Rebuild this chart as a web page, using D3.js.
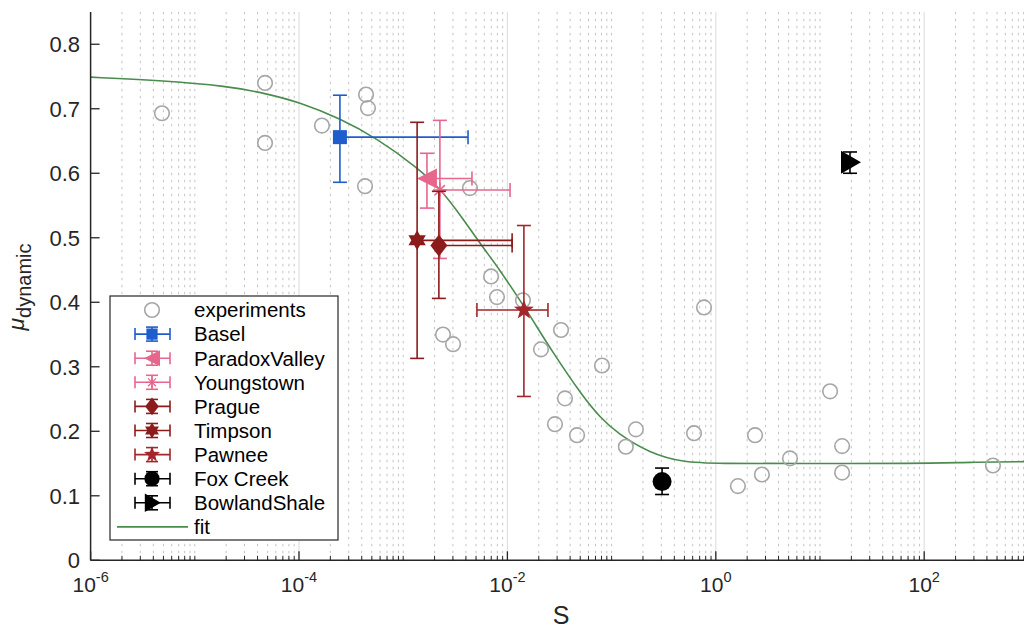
<!DOCTYPE html>
<html>
<head>
<meta charset="utf-8">
<script src="https://cdn.jsdelivr.net/npm/d3@7"></script>
<style>
  body { margin: 0; background: #fff; }
  svg { display: block; font-family: "Liberation Sans", Arial, Helvetica, sans-serif; }
</style>
</head>
<body>
<svg id="chart" width="1024" height="630"></svg>
<script>
// ---------------- data ----------------
const expS  = [4.84e-6, 4.72e-5, 4.72e-5, 1.66e-4, 4.40e-4, 4.59e-4, 4.30e-4, 4.37e-3, 6.97e-3, 7.94e-3,
               0.0141, 2.41e-3, 3.01e-3, 0.0210, 0.0327, 0.0357, 0.0286, 0.0466, 0.0809, 0.137,
               0.171, 0.771, 0.618, 1.63, 2.38, 2.77, 5.15, 12.5, 16.3, 16.3, 457];
const expMu = [0.693, 0.740, 0.647, 0.674, 0.722, 0.701, 0.580, 0.577, 0.440, 0.408,
               0.403, 0.350, 0.335, 0.327, 0.357, 0.251, 0.211, 0.194, 0.302, 0.176,
               0.203, 0.392, 0.197, 0.115, 0.194, 0.133, 0.158, 0.262, 0.177, 0.136, 0.147];

const siteNames = ["Basel", "ParadoxValley", "Youngstown", "Prague", "Timpson", "Pawnee", "Fox Creek", "BowlandShale"];
const siteS     = [2.47e-4, 1.69e-3, 2.25e-3, 2.20e-3, 1.36e-3, 0.0144, 0.305, 19.4];
const siteMu    = [0.656, 0.592, 0.574, 0.488, 0.496, 0.388, 0.122, 0.617];
const siteMuLo  = [0.586, 0.546, 0.468, 0.406, 0.313, 0.254, 0.102, 0.600];
const siteMuHi  = [0.721, 0.631, 0.682, 0.572, 0.679, 0.519, 0.143, 0.633];
const siteSLo   = [null, null, null, null, null, 5.10e-3, null, null];
const siteSHi   = [4.19e-3, 4.57e-3, 0.0106, 0.0111, 0.0111, 0.0245, null, null];
const siteColors  = ["#1f5ccc", "#e7668c", "#e7668c", "#8c1c1c", "#8c1c1c", "#a3262a", "#000000", "#000000"];
const siteMarkers = ["square", "triLeft", "asterisk", "diamond", "hexagram", "pentagram", "circle", "triRight"];

const fitS  = [1e-6, 4.50e-6, 2.11e-5, 4.72e-5, 1.02e-4, 2.47e-4, 5.60e-4, 1.36e-3, 2.25e-3, 3.66e-3,
               5.46e-3, 8.49e-3, 0.0132, 0.0176, 0.0256, 0.0532, 0.0774, 0.113, 0.233,
               0.484, 1.03, 6.44, 85.3, 275, 1000];
const fitMu = [0.749, 0.744, 0.735, 0.724, 0.710, 0.685, 0.654, 0.609, 0.577, 0.532,
               0.491, 0.450, 0.403, 0.372, 0.329, 0.253, 0.222, 0.197, 0.166,
               0.152, 0.150, 0.150, 0.150, 0.152, 0.153];

const yTicks = [0, 0.1, 0.2, 0.3, 0.4, 0.5, 0.6, 0.7, 0.8];
const xTickExps = [-6, -4, -2, 0, 2];
const legendLabels = ["experiments", ...siteNames, "fit"];

// ---------------- layout ----------------
const svg = d3.select("#chart");
const axisColor = "#262626";
const x = d3.scaleLog().domain([1e-6, 1e3]).range([90.6, 1028.4]);
const y = d3.scaleLinear().domain([0, 0.85]).range([560.3, 12]);
const x0 = x.range()[0], yBot = y(0), yTop = y.range()[1];

// ---------------- grid ----------------
const grid = svg.append("g");
const minorVals = [];
for (let e = -6; e < 3; e++) {
  for (let m = 1; m <= 9; m++) {
    const v = m * Math.pow(10, e);
    if (m === 1 && (e % 2 === 0)) continue; // major
    minorVals.push(v);
  }
}
grid.selectAll("line.minor").data(minorVals).enter().append("line")
  .attr("x1", d => x(d)).attr("x2", d => x(d))
  .attr("y1", yBot).attr("y2", yTop)
  .attr("stroke", "#c4c4c4").attr("stroke-width", 1)
  .attr("stroke-dasharray", "2.5,4.5");
grid.selectAll("line.major").data(xTickExps.filter(e => e > -6)).enter().append("line")
  .attr("x1", d => x(Math.pow(10, d))).attr("x2", d => x(Math.pow(10, d)))
  .attr("y1", yBot).attr("y2", yTop)
  .attr("stroke", "#e0e0e0").attr("stroke-width", 1.2);

// ---------------- fit ----------------
const fitLine = d3.line().x((d, i) => x(fitS[i])).y((d, i) => y(fitMu[i])).curve(d3.curveBasis);
svg.append("path").datum(fitS).attr("d", fitLine)
  .attr("fill", "none").attr("stroke", "#4a8c4e").attr("stroke-width", 1.6);

// ---------------- experiments ----------------
svg.append("g").selectAll("circle").data(expS).enter().append("circle")
  .attr("cx", d => x(d)).attr("cy", (d, i) => y(expMu[i])).attr("r", 7.3)
  .attr("fill", "none").attr("stroke", "#a6a6a6").attr("stroke-width", 1.6);

// ---------------- marker shapes ----------------
function starPath(n, ro, ri, rot) {
  const pts = [];
  for (let k = 0; k < 2 * n; k++) {
    const r = k % 2 === 0 ? ro : ri;
    const a = rot + k * Math.PI / n;
    pts.push([r * Math.cos(a), r * Math.sin(a)]);
  }
  return "M" + pts.map(p => p.join(",")).join("L") + "Z";
}
function drawMarker(g, type, cx, cy, color, s) {
  s = s || 1;
  const t = `translate(${cx},${cy}) scale(${s})`;
  switch (type) {
    case "square":
      g.append("rect").attr("x", -7).attr("y", -7).attr("width", 14).attr("height", 14)
        .attr("transform", t).attr("fill", color); break;
    case "triLeft":
      g.append("path").attr("d", "M-10,0L10,-10L10,10Z").attr("transform", t).attr("fill", color); break;
    case "triRight":
      g.append("path").attr("d", "M-9,-11.5L11,0L-9,11.5Z").attr("transform", t).attr("fill", color); break;
    case "diamond":
      g.append("path").attr("d", "M0,-11L8.5,0L0,11L-8.5,0Z").attr("transform", t).attr("fill", color); break;
    case "circle":
      g.append("circle").attr("r", 9.5).attr("transform", t).attr("fill", color); break;
    case "hexagram":
      g.append("path").attr("d", starPath(6, 10, 5.8, -Math.PI / 2)).attr("transform", t).attr("fill", color); break;
    case "pentagram":
      g.append("path").attr("d", starPath(5, 10.5, 4.3, -Math.PI / 2)).attr("transform", t).attr("fill", color); break;
    case "asterisk": {
      const r = 7;
      const d = [0, 45, 90, 135].map(a => {
        const rad = a * Math.PI / 180;
        return `M${-r * Math.cos(rad)},${-r * Math.sin(rad)}L${r * Math.cos(rad)},${r * Math.sin(rad)}`;
      }).join("");
      g.append("path").attr("d", d).attr("transform", t).attr("fill", "none")
        .attr("stroke", color).attr("stroke-width", 1.6); break;
    }
  }
}

// ---------------- error bars + markers ----------------
const cap = 7;
const sites = svg.append("g");
siteNames.forEach((name, i) => {
  const g = sites.append("g");
  const c = siteColors[i];
  const cx = x(siteS[i]), cy = y(siteMu[i]);
  const ln = (x1, y1, x2, y2) => g.append("line").attr("x1", x1).attr("y1", y1).attr("x2", x2).attr("y2", y2)
    .attr("stroke", c).attr("stroke-width", 1.6);
  const yl = y(siteMuLo[i]), yh = y(siteMuHi[i]);
  ln(cx, yl, cx, yh);
  ln(cx - cap, yl, cx + cap, yl);
  ln(cx - cap, yh, cx + cap, yh);
  if (siteSHi[i] !== null) {
    const xh = x(siteSHi[i]);
    ln(cx, cy, xh, cy);
    ln(xh, cy - cap, xh, cy + cap);
  }
  if (siteSLo[i] !== null) {
    const xl = x(siteSLo[i]);
    ln(xl, cy, cx, cy);
    ln(xl, cy - cap, xl, cy + cap);
  }
  drawMarker(g, siteMarkers[i], cx, cy, c, 1);
});

// ---------------- axes ----------------
const ax = svg.append("g");
ax.append("line").attr("x1", x0).attr("x2", 1024).attr("y1", yBot).attr("y2", yBot)
  .attr("stroke", axisColor).attr("stroke-width", 1.5);
ax.append("line").attr("x1", x0).attr("x2", x0).attr("y1", yBot).attr("y2", yTop)
  .attr("stroke", axisColor).attr("stroke-width", 1.5);

ax.selectAll("line.xminor").data(minorVals).enter().append("line")
  .attr("x1", d => x(d)).attr("x2", d => x(d)).attr("y1", yBot).attr("y2", yBot - 4.5)
  .attr("stroke", axisColor).attr("stroke-width", 1);
ax.selectAll("line.xmajor").data(xTickExps).enter().append("line")
  .attr("x1", d => x(Math.pow(10, d))).attr("x2", d => x(Math.pow(10, d)))
  .attr("y1", yBot).attr("y2", yBot - 9)
  .attr("stroke", axisColor).attr("stroke-width", 1.3);
const xt = ax.selectAll("text.xt").data(xTickExps).enter().append("text")
  .attr("x", d => x(Math.pow(10, d))).attr("y", 592)
  .attr("text-anchor", "middle").attr("fill", axisColor).attr("font-size", 21);
xt.append("tspan").text("10");
xt.append("tspan").attr("font-size", 14.5).attr("dy", -10).text(d => String(d));

ax.selectAll("line.yt").data(yTicks).enter().append("line")
  .attr("x1", x0).attr("x2", x0 + 9).attr("y1", d => y(d)).attr("y2", d => y(d))
  .attr("stroke", axisColor).attr("stroke-width", 1.3);
ax.selectAll("text.yt").data(yTicks).enter().append("text")
  .attr("x", 80).attr("y", d => y(d)).attr("dy", "0.36em")
  .attr("text-anchor", "end").attr("fill", axisColor).attr("font-size", 22)
  .text(d => d === 0 ? "0" : d3.format(".1f")(d));

svg.append("text").attr("x", 561).attr("y", 624).attr("text-anchor", "middle")
  .attr("fill", axisColor).attr("font-size", 25).text("S");
const ylab = svg.append("text").attr("transform", "translate(24,287) rotate(-90)")
  .attr("text-anchor", "middle").attr("fill", axisColor);
ylab.append("tspan").attr("font-size", 23).attr("font-style", "italic").text("μ");
ylab.append("tspan").attr("font-size", 20).attr("dy", 7).text("dynamic");

// ---------------- legend ----------------
const lg = svg.append("g");
lg.append("rect").attr("x", 110).attr("y", 296).attr("width", 228).attr("height", 244)
  .attr("fill", "#fff").attr("stroke", axisColor).attr("stroke-width", 1.2);
const rowY = i => 310 + i * 24.1;
legendLabels.forEach((lab, i) => {
  const yy = rowY(i);
  lg.append("text").attr("x", 194).attr("y", yy).attr("dy", "0.36em")
    .attr("fill", "#000").attr("font-size", 20.5).text(lab);
  if (i === 0) {
    lg.append("circle").attr("cx", 152).attr("cy", yy).attr("r", 7.3)
      .attr("fill", "none").attr("stroke", "#a6a6a6").attr("stroke-width", 1.6);
  } else if (i === legendLabels.length - 1) {
    lg.append("line").attr("x1", 117).attr("x2", 188).attr("y1", yy).attr("y2", yy)
      .attr("stroke", "#4a8c4e").attr("stroke-width", 1.6);
  } else {
    const k = i - 1, c = siteColors[k];
    const g = lg.append("g");
    const L = (x1, y1, x2, y2) => g.append("line").attr("x1", x1).attr("y1", y1).attr("x2", x2).attr("y2", y2)
      .attr("stroke", c).attr("stroke-width", 1.6);
    L(135, yy, 170, yy); L(135, yy - 6, 135, yy + 6); L(170, yy - 6, 170, yy + 6);
    L(152, yy - 7, 152, yy + 7); L(146, yy - 7, 158, yy - 7); L(146, yy + 7, 158, yy + 7);
    drawMarker(g, siteMarkers[k], 152, yy, c, 0.8);
  }
});
</script>
</body>
</html>
